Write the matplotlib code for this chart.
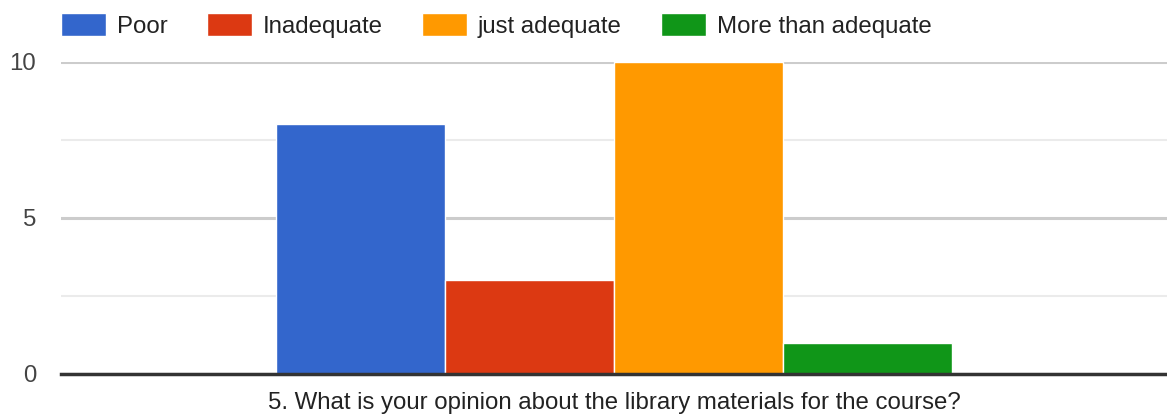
import numpy as np
from matplotlib import pyplot as plt
from matplotlib.ticker import MultipleLocator

# survey answers for one question
question = "5. What is your opinion about the library materials for the course?"
answers = ["Poor", "Inadequate", "just adequate", "More than adequate"]
counts = [8, 3, 10, 1]
colors = ["#3366cc", "#dc3912", "#ff9900", "#109618"]

plt.rcParams["font.family"] = ["Liberation Sans", "DejaVu Sans"]
fs = 17.3

fig = plt.figure(figsize=(11.67, 4.16), dpi=100)
ax = fig.add_axes([61 / 1167, 42 / 416, 1106 / 1167, 312 / 416])

# grouped bars around a single category
width = 0.153
offsets = (np.arange(len(counts)) - (len(counts) - 1) / 2) * width
for off, val, lab, col in zip(offsets, counts, answers, colors):
    ax.bar(off, val, width=width, color=col, edgecolor="white", linewidth=1, label=lab, zorder=3)

ax.set_xlim(-0.5, 0.5)
ax.set_ylim(0, 10)
ax.yaxis.set_major_locator(MultipleLocator(5))
ax.yaxis.set_minor_locator(MultipleLocator(2.5))
ax.grid(axis="y", which="major", color="#cccccc", linewidth=2.2, zorder=0)
ax.grid(axis="y", which="minor", color="#ebebeb", linewidth=1.5, zorder=0)
ax.set_xticks([])
ax.tick_params(axis="y", which="both", length=0, labelsize=fs, labelcolor="#444444", pad=18)

for side in ["top", "right", "left"]:
    ax.spines[side].set_visible(False)
ax.spines["bottom"].set_color("#333333")
ax.spines["bottom"].set_linewidth(2.5)
ax.spines["bottom"].set_zorder(4)

ax.set_xlabel(question, fontsize=fs, color="#222222", labelpad=13)

ax.legend(
    loc="upper left",
    bbox_to_anchor=(0.0, 1.0 + 49 / 312),
    ncol=4,
    frameon=False,
    fontsize=fs,
    handlelength=1.875,
    handleheight=1.1,
    handletextpad=0.46,
    columnspacing=1.62,
    borderaxespad=0,
    borderpad=0,
    labelcolor="#222222",
)

fig.savefig("out.png", dpi=100)
